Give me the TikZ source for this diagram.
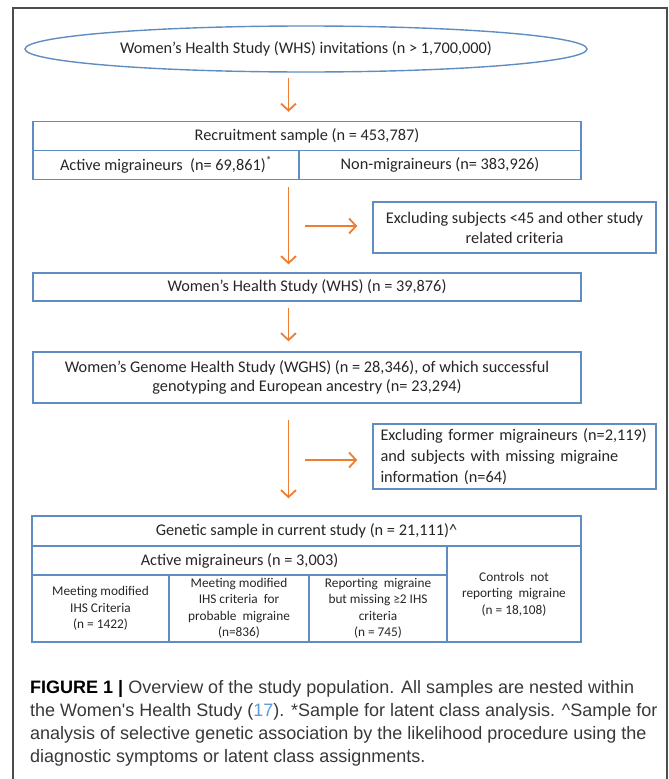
\documentclass[tikz,border=0pt]{standalone}
\usepackage{fontspec}
\setmainfont{Carlito}
\newfontfamily\legende{Liberation Sans}
\usetikzlibrary{shapes.geometric,arrows.meta}
\definecolor{bleu}{HTML}{5F8DC2}
\definecolor{orangefl}{HTML}{EE7D31}
\definecolor{texte}{HTML}{262626}
\definecolor{renvoi}{HTML}{5B9BD5}

\begin{document}
\begin{tikzpicture}[x=1pt,y=-1pt]
\tikzstyle{lien}=[-{Straight Barb[length=7pt,width=15pt]},line width=1.8pt,draw=orangefl]
\tikzset{boite/.style={draw=bleu,line width=1.4pt,inner sep=2pt,align=center,text=texte,
  font=\fontsize{16.3}{20}\selectfont,minimum width=#1},
boite/.default={548pt},
petit/.style={font=\fontsize{13.3}{16.5}\selectfont}}
\useasboundingbox (0,0) rectangle (669,779);
\draw[gray!60!black,line width=1.2pt] (13,779) -- (13,8) -- (667,8) -- (667,779);

\node[boite=562pt,ellipse,minimum height=46pt,inner sep=0pt] (inv) at (306,49) {Women's Health Study (WHS) invitations (n > 1,700,000)};

\node[boite,minimum height=29pt] (rec) at (307,136) {Recruitment sample (n = 453,787)};
\node[boite=266pt,minimum height=29pt] (act) at (166,165) {Active migraineurs\ \ (n= 69,861)\textsuperscript{*}};
\node[boite=282pt,minimum height=29pt] (non) at (440,165) {Non-migraineurs (n= 383,926)};

\node[boite=283pt,minimum height=51pt] (excl1) at (514.5,227.5) {Excluding subjects <45 and other study\\ related criteria};
\node[boite,minimum height=28pt] (whs) at (307,287) {Women's Health Study (WHS) (n = 39,876)};
\node[boite,minimum height=51pt,font=\fontsize{16.3}{19}\selectfont] (wghs) at (307,377.5) {Women's Genome Health Study (WGHS) (n = 28,346), of which successful\\ genotyping and European ancestry (n= 23,294)};
\node[boite=283pt,minimum height=65pt,align=left,text width=268pt,inner xsep=7.5pt,
  font=\fontsize{16.3}{21}\selectfont] (excl2) at (514.5,456.5) {Excluding former migraineurs (n=2,119)\\ and subjects with missing migraine\\ information (n=64)};

% echantillon genetique
\node[boite=549pt,minimum height=30pt] (gen) at (306.5,531) {Genetic sample in current study (n = 21,111)\textasciicircum};
\node[boite=415pt,minimum height=29pt] (actm) at (239.5,560.5) {Active migraineurs (n = 3,003)};
\node[boite=134pt,minimum height=96pt,petit] (ctrl) at (514,594) {Controls\ \ not\\ reporting\ \ migraine\\ (n = 18,108)};
\node[boite=137pt,minimum height=67pt,petit] (c1) at (100.5,608.5) {Meeting modified\\ IHS Criteria\\ (n = 1422)};
\node[boite=140pt,minimum height=67pt,petit] (c2) at (239,608.5) {Meeting modified\\ IHS criteria\ \ for\\ probable\ \ migraine\\ (n=836)};
\node[boite=138pt,minimum height=67pt,petit] (c3) at (378,608.5) {Reporting\ \ migraine\\ but missing ≥2 IHS\\ criteria\\ (n = 745)};

\coordinate (f1) at (288.5,78);
\coordinate (f2) at (288.5,187);
\coordinate (f3) at (288.5,308);
\coordinate (f4) at (288.5,420);
\coordinate (g1) at (305,226);
\coordinate (g2) at (305,460);
\draw[lien,shorten >=9pt] (f1) -- (f1 |- rec.north);
\draw[lien,shorten >=8pt] (f2) -- (f2 |- whs.north);
\draw[lien,shorten >=15pt] (g1) -- (g1 -| excl1.west);
\draw[lien,shorten >=10pt] (f3) -- (f3 |- wghs.north);
\draw[lien,shorten >=17pt] (f4) -- (f4 |- gen.north);
\draw[lien,shorten >=15pt] (g2) -- (g2 -| excl2.west);

\node[anchor=north west,align=left,inner sep=0pt,text=black!78,
  font=\legende\fontsize{18}{23}\selectfont] (leg) at (30,680)
  {{\color{black}\textbf{FIGURE 1 |}} Overview of the study population. All samples are nested within\\
  the Women's Health Study ({\color{renvoi}17}). *Sample for latent class analysis. \textasciicircum Sample for\\
  analysis of selective genetic association by the likelihood procedure using the\\
  diagnostic symptoms or latent class assignments.};
\end{tikzpicture}
\end{document}
